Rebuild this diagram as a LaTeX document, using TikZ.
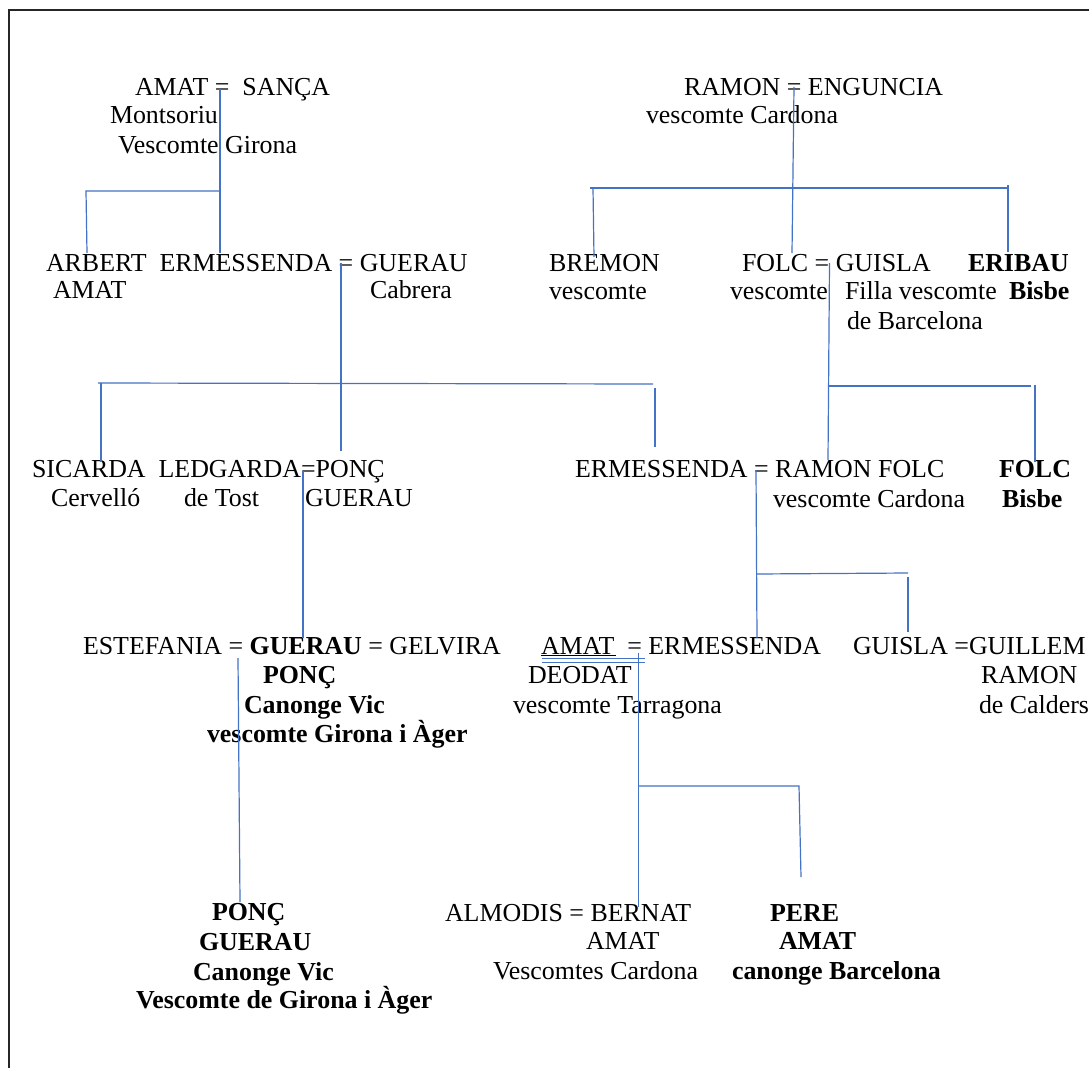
\documentclass[tikz,border=0pt]{standalone}
\usepackage{fontspec}
\setmainfont{Liberation Serif}
\definecolor{linkblue}{HTML}{4472C4}
\begin{document}
\begin{tikzpicture}[x=1pt,y=-1pt,
  lbl/.style={anchor=base west, inner sep=0pt, outer sep=0pt, font=\fontsize{25.9}{30}\selectfont},
  blbl/.style={lbl, font=\fontsize{25.9}{30}\selectfont\bfseries},
  link/.style={draw=linkblue, line width=1.2pt},
  frame/.style={draw=black!85, line width=1.6pt}]
\useasboundingbox (0,0) rectangle (1089,1068);

% page frame (top and left edges)
\draw[frame] (1089,10) -- (9,10) -- (9,1068);

% ---- generation 1 ----
\node[lbl] (amatsanca) at (135,95) {AMAT =~~SANÇA};
\node[lbl] (montsoriu) at (110,123) {Montsoriu};
\node[lbl] (vgirona)   at (118,153) {Vescomte Girona};

\node[lbl] (ramoneng)  at (684,95) {RAMON = ENGUNCIA};
\node[lbl] (vcardona1) at (646,123) {vescomte Cardona};

% ---- generation 2 ----
\node[lbl] (arbert)    at (46,271) {ARBERT~~ERMESSENDA = GUERAU};
\node[lbl] (arbamat)   at (53,298) {AMAT};
\node[lbl] (cabrera)   at (370,298) {Cabrera};

\node[lbl] (bremon)    at (549,271) {BREMON};
\node[lbl] (bremonv)   at (549,299) {vescomte};
\node[lbl] (folcguis)  at (742,271) {FOLC = GUISLA};
\node[lbl] (folcv)     at (730,299) {vescomte};
\node[lbl] (filla)     at (845,299) {Filla vescomte};
\node[lbl] (debarc)    at (847,329) {de Barcelona};
\node[blbl] (eribau)   at (968,271) {ERIBAU};
\node[blbl] (eribaub)  at (1009,299) {Bisbe};

% ---- generation 3 ----
\node[lbl] (sicarda)   at (32,477) {SICARDA~~LEDGARDA=PONÇ};
\node[lbl] (cervello)  at (51,506) {Cervelló};
\node[lbl] (tost)      at (184,506) {de Tost};
\node[lbl] (pguerau)   at (305,506) {GUERAU};

\node[lbl] (ermramon)  at (575,477) {ERMESSENDA = RAMON FOLC};
\node[lbl] (vcardona2) at (773,507) {vescomte Cardona};
\node[blbl] (folcb)    at (999,477) {FOLC};
\node[blbl] (folcbis)  at (1002,507) {Bisbe};

% ---- generation 4 ----
\node[lbl] (estef)     at (83,654) {ESTEFANIA = \textbf{GUERAU} = GELVIRA};
\node[blbl] (gponc)    at (263,683) {PONÇ};
\node[blbl] (gcanon)   at (244,713) {Canonge Vic};
\node[blbl] (ggirona)  at (207,742) {vescomte Girona i Àger};

\node[lbl] (amaterm)   at (541,654) {AMAT~~= ERMESSENDA};
\node[lbl] (deodat)    at (528,683) {DEODAT};
\node[lbl] (tarrag)    at (513,713) {vescomte Tarragona};

\node[lbl] (guisla)    at (853,654) {GUISLA =GUILLEM};
\node[lbl] (gramon)    at (981,683) {RAMON};
\node[lbl] (calders)   at (979,713) {de Calders};

% ---- generation 5 ----
\node[blbl] (pponc)    at (212,920) {PONÇ};
\node[blbl] (pguer)    at (199,950) {GUERAU};
\node[blbl] (pcanon)   at (193,980) {Canonge Vic};
\node[blbl] (pgirona)  at (136,1008) {Vescomte de Girona i Àger};

\node[lbl] (almodis)   at (445,921) {ALMODIS = BERNAT};
\node[lbl] (bamat)     at (586,949) {AMAT};
\node[lbl] (bcardona)  at (493,979) {Vescomtes Cardona};

\node[blbl] (pere)     at (770,921) {PERE};
\node[blbl] (pamat)    at (779,949) {AMAT};
\node[blbl] (pbarc)    at (732,979) {canonge Barcelona};

% underlines beneath AMAT (DEODAT)
\draw[black, line width=0.9pt] (541,655.5) -- (616,655.5);
\draw[link, line width=1pt] (542,658.5) -- (645,658.5);
\draw[link, line width=1pt] (542,662) -- (645,662);

% ---- link points ----
\coordinate (as)  at (220,89);
\coordinate (asj) at (220,191);
\coordinate (ase) at (220,253);
\coordinate (arl) at (86,191);
\coordinate (are) at (87,253);

\coordinate (re)  at (794,87);
\coordinate (rej) at (793,188);
\coordinate (ree) at (792,253);
\coordinate (rbl) at (590,188);
\coordinate (rbt) at (593,188);
\coordinate (rbe) at (594,257);
\coordinate (rr)  at (1008,188);
\coordinate (rrt) at (1008,185);
\coordinate (rre) at (1008,252);

\coordinate (eg)  at (341,263);
\coordinate (egj) at (341,383);
\coordinate (ege) at (341,451);
\coordinate (egl) at (98,383);
\coordinate (egs) at (101,383);
\coordinate (egse) at (101,462);
\coordinate (egr) at (653,384);
\coordinate (egrt) at (655,388);
\coordinate (egre) at (655,447);

\coordinate (fg)  at (829.5,263);
\coordinate (fgj) at (828.5,386);
\coordinate (fge) at (828,460);
\coordinate (fgr) at (1031,386);
\coordinate (fgrt) at (1035,385);
\coordinate (fgre) at (1035,462);

\coordinate (lp)  at (303,471);
\coordinate (lpe) at (303,638);

\coordinate (er)  at (756,470);
\coordinate (erj) at (756.5,574);
\coordinate (ere) at (757,638);
\coordinate (err) at (908,573);
\coordinate (errt) at (908,577);
\coordinate (erre) at (908,632);

\coordinate (es)  at (238,658);
\coordinate (ese) at (240,902);

\coordinate (ae)  at (638.5,653);
\coordinate (aej) at (638.5,786);
\coordinate (aee) at (638.5,907);
\coordinate (aer) at (799,786);
\coordinate (aere) at (801,877);

% ---- descent lines ----
\draw[link] (as) -- (ase);
\draw[link] (asj) -- (arl) -- (are);

\draw[link] (re) -- (ree);
\draw[link] (rbl) -- (rr);
\draw[link] (rbt) -- (rbe);
\draw[link] (rrt) -- (rre);

\draw[link] (eg) -- (ege);
\draw[link] (egl) -- (egr);
\draw[link] (egs) -- (egse);
\draw[link] (egrt) -- (egre);

\draw[link] (fg) -- (fge);
\draw[link] (fgj) -- (fgr);
\draw[link] (fgrt) -- (fgre);

\draw[link] (lp) -- (lpe);

\draw[link] (er) -- (ere);
\draw[link] (erj) -- (err);
\draw[link] (errt) -- (erre);

\draw[link] (es) -- (ese);

\draw[link] (ae) -- (aee);
\draw[link] (aej) -- (aer) -- (aere);
\end{tikzpicture}
\end{document}
